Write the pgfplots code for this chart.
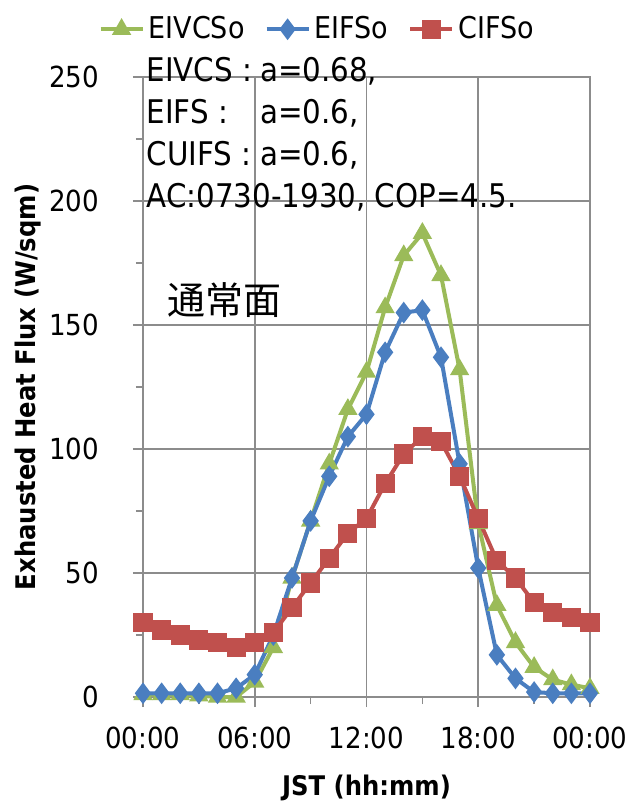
\documentclass[border=0pt]{standalone}
\usepackage{pgfplots}
\pgfplotsset{compat=1.18}
\usepackage{pgfplotstable}
\usepackage{fontspec}
\setmainfont{DejaVu Sans}[FakeStretch=0.9]
\newfontfamily\cjk{Noto Sans CJK JP}

\definecolor{gridgray}{RGB}{140,140,140}
\definecolor{cgreen}{RGB}{155,187,89}
\definecolor{cblue}{RGB}{74,126,192}
\definecolor{cred}{RGB}{192,80,77}

% hour  EIVCSo  EIFSo  CIFSo
\pgfplotstableread{
h  G    B    R
0  1    1.5  30
1  1    1.5  27
2  1    1.5  25
3  0.5  1.5  23
4  0    1.5  22
5  0    3.5  20
6  6    9    22
7  20   25   26
8  48   48   36
9  71   71   46
10 94   89   56
11 116  105  66
12 131  114  72
13 157  139  86
14 178  155  98
15 187  156  105
16 170  137  103
17 132  94   89
18 70   52   72
19 37   17   55
20 22   7.5  48
21 12   2    38
22 7    1.5  34
23 5    1.5  32
24 3.5  1.5  30
}\heat

\begin{document}
\begin{tikzpicture}
\begin{axis}[
    scale only axis,
    width=223.5pt, height=310pt,
    xmin=0, xmax=24, ymin=0, ymax=250,
    clip=false,
    xtick={0,6,...,24},
    xticklabels={00:00,06:00,12:00,18:00,00:00},
    minor xtick={3,9,15,21},
    ytick={0,50,...,250},
    minor ytick={25,75,...,225},
    tick pos=left,
    tick align=outside,
    major tick length=5pt,
    minor tick length=3.5pt,
    tick style={gridgray, line width=0.8pt},
    axis line style={gridgray, line width=0.8pt},
    grid=major,
    major grid style={gridgray, line width=0.8pt},
    /pgf/number format/assume math mode=true,
    tick label style={font=\fontsize{14.5}{17}\selectfont},
    xticklabel style={yshift=-6.5pt},
    yticklabel style={xshift=-13.5pt},
    xlabel={JST (hh:mm)},
    ylabel={Exhausted Heat Flux (W/sqm)},
    label style={font=\bfseries\fontsize{13.5}{16}\selectfont},
    xlabel style={at={(axis description cs:0.5,-0.147)}, anchor=center},
    ylabel style={at={(axis description cs:-0.257,0.5)}, anchor=center},
    legend columns=3,
    legend style={at={(axis description cs:0.392,1.077)}, anchor=center,
        draw=none, fill=none, font=\fontsize{15}{18}\selectfont,
        /tikz/every even column/.append style={column sep=8pt}},
    legend image code/.code={\draw[mark repeat=2,mark phase=2]
        plot coordinates {(0pt,0pt) (10.5pt,0pt) (21pt,0pt)};},
]
\addplot[cgreen, line width=2pt, mark=triangle*, mark size=3.6pt] table[x=h,y=G] {\heat};
\addlegendentry{EIVCSo}
\addplot[cblue, line width=2pt, mark=diamond*, mark size=3.8pt] table[x=h,y=B] {\heat};
\addlegendentry{EIFSo}
\addplot[cred, line width=2pt, mark=square*, mark size=3.8pt] table[x=h,y=R] {\heat};
\addlegendentry{CIFSo}

\node[anchor=north west, inner sep=0pt, font=\fontsize{16.3}{21}\selectfont]
    at (axis description cs:0.007,1.041) {%
    \begin{tabular}{@{}l@{\hspace{4pt}}l@{}}
    EIVCS : & a=0.68,\\
    EIFS :  & a=0.6,\\
    CUIFS : & a=0.6,\\
    \multicolumn{2}{@{}l@{}}{AC:0730-1930, COP=4.5.}
    \end{tabular}};
\node[font=\cjk\fontsize{19}{19}\selectfont] at (axis cs:4.37,160) {通常面};
\end{axis}
\pgfresetboundingbox
\path[use as bounding box] (current axis.south west) ++(-71.5pt,-56pt) rectangle ++(315.5pt,404.5pt);
\end{tikzpicture}
\end{document}
